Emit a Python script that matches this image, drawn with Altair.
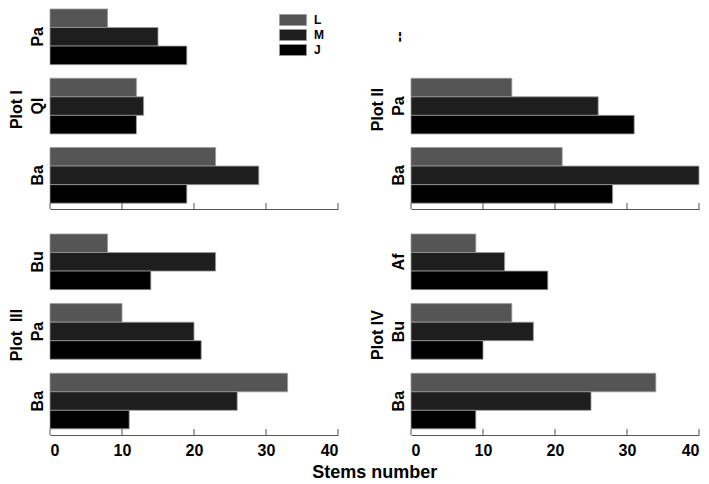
import altair as alt
import pandas as pd

FONT = "Liberation Sans"

stages = ["L", "M", "J"]
stage_colors = ["#555555", "#1e1e1e", "#000000"]
tick_values = [0, 10, 20, 30, 40]

# Plot I
p1_axis = ["Pa", "QI", "Ba"]
p1_species = ["Pa", "QI", "Ba"]
p1_L = [8, 12, 23]
p1_M = [15, 13, 29]
p1_J = [19, 12, 19]

# Plot II ("--" has no stems)
p2_axis = ["--", "Pa", "Ba"]
p2_species = ["Pa", "Ba"]
p2_L = [14, 21]
p2_M = [26, 40]
p2_J = [31, 28]

# Plot III
p3_axis = ["Bu", "Pa", "Ba"]
p3_species = ["Bu", "Pa", "Ba"]
p3_L = [8, 10, 33]
p3_M = [23, 20, 26]
p3_J = [14, 21, 11]

# Plot IV
p4_axis = ["Af", "Bu", "Ba"]
p4_species = ["Af", "Bu", "Ba"]
p4_L = [9, 14, 34]
p4_M = [13, 17, 25]
p4_J = [19, 10, 9]


def make_df(species, L, M, J):
    rows = []
    for i, s in enumerate(species):
        for st, vals in zip(stages, [L, M, J]):
            rows.append({"species": s, "stage": st, "value": vals[i]})
    return pd.DataFrame(rows)


W = 288


def panel(df, axis_domain, title, H, show_labels, legend):
    xaxis = alt.Axis(values=tick_values, labels=show_labels, title=None, format="d")
    xscale = alt.Scale(domain=[0, 40], nice=False)
    bars = alt.Chart(df).mark_bar(stroke="#9a9a9a", strokeWidth=0.8).encode(
        x=alt.X("value:Q", scale=xscale, axis=xaxis),
        y=alt.Y(
            "species:N",
            scale=alt.Scale(domain=axis_domain, paddingInner=0.197,
                            paddingOuter=0.042, align=0),
            axis=alt.Axis(title=title),
        ),
        yOffset=alt.YOffset(
            "stage:N", sort=stages,
            scale=alt.Scale(domain=stages, paddingInner=0, paddingOuter=0),
        ),
        color=alt.Color(
            "stage:N",
            scale=alt.Scale(domain=stages, range=stage_colors),
            legend=legend,
        ),
    )
    ticks = alt.Chart(pd.DataFrame({"value": tick_values})).mark_rule(
        color="#555555", strokeWidth=1
    ).encode(
        x=alt.X("value:Q", scale=xscale, axis=xaxis),
        y=alt.value(H - 6),
        y2=alt.value(H),
    )
    return alt.layer(bars, ticks).properties(width=W, height=H)


legend = alt.Legend(
    orient="none", legendX=237, legendY=5, title=None,
    symbolType="M-2.45,-1H2.45V1H-2.45Z", symbolSize=121,
    symbolStrokeColor="#9a9a9a", symbolStrokeWidth=0.8,
    labelFont=FONT, labelFontSize=12, labelFontWeight="bold",
    labelColor="black", labelOffset=15, rowPadding=-1, padding=0,
)

H_TOP = 200
H_BOT = 201

c1 = panel(make_df(p1_species, p1_L, p1_M, p1_J), p1_axis, "Plot I", H_TOP, False, legend)
c2 = panel(make_df(p2_species, p2_L, p2_M, p2_J), p2_axis, "Plot II", H_TOP, False, None)
c3 = panel(make_df(p3_species, p3_L, p3_M, p3_J), p3_axis, "Plot\u00a0\u00a0III", H_BOT, True, None)
c4 = panel(make_df(p4_species, p4_L, p4_M, p4_J), p4_axis, "Plot IV", H_BOT, True, None)

chart = alt.concat(
    c1, c2, c3, c4, columns=2,
    spacing=alt.RowColnumber(row=25, column=73),
    bounds="flush",
).resolve_scale(color="independent").resolve_legend(color="independent").properties(
    title=alt.TitleParams(
        "Stems number", orient="bottom", anchor="middle", font=FONT,
        fontSize=18, fontWeight="bold", color="black", offset=6, dx=21,
    ),
    padding={"left": 0, "top": 0, "right": 0, "bottom": 0},
).configure_view(stroke=None).configure_axisX(
    ticks=False, domain=True, domainColor="#555555", domainWidth=1, grid=False,
    labelFont=FONT, labelFontSize=16, labelFontWeight="bold",
    labelColor="black", labelPadding=7,
).configure_axisY(
    labelAngle=270, labelAlign="center", labelBaseline="bottom",
    domain=False, ticks=False, grid=False,
    labelFont=FONT, labelFontSize=16, labelFontWeight="bold",
    labelColor="black", labelPadding=5,
    titleFont=FONT, titleFontSize=16, titleFontWeight="bold",
    titleColor="black", titlePadding=5, titleAngle=270,
)

chart.save("out.html", embed_options={"renderer": "svg", "actions": False})
